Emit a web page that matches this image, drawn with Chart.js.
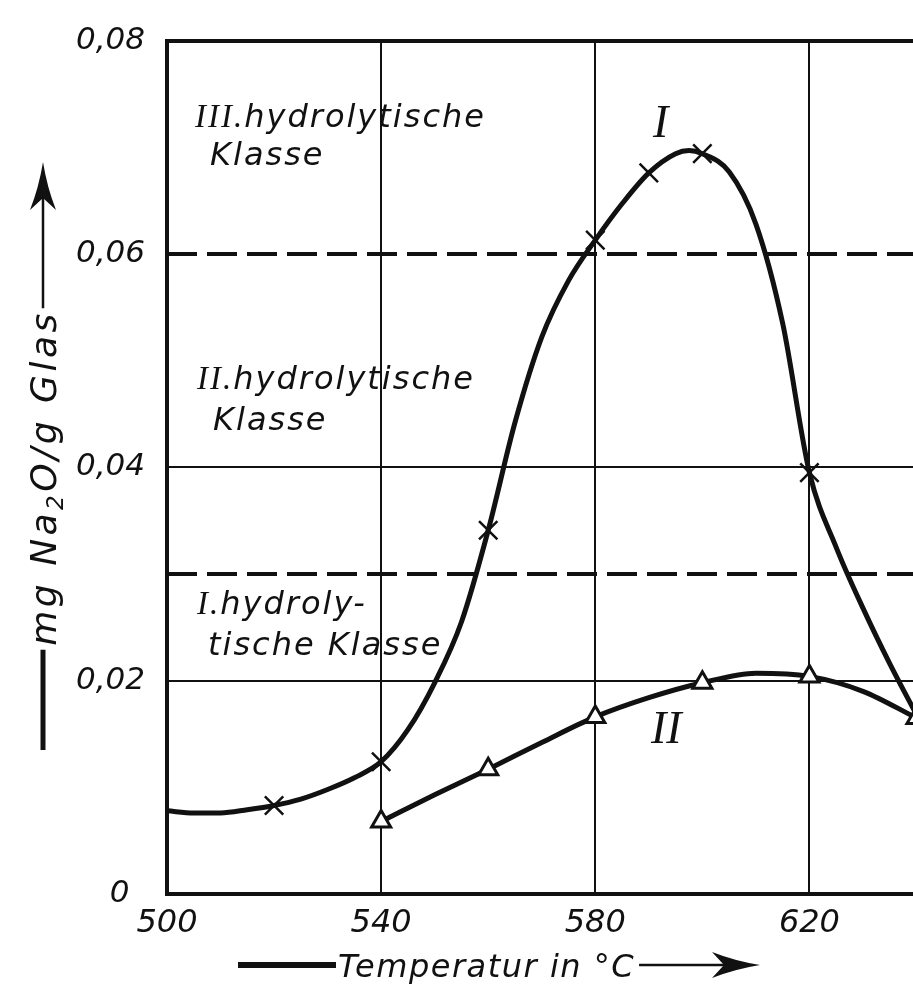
<!DOCTYPE html>
<html>
<head>
<meta charset="utf-8">
<title>Hydrolytische Klasse</title>
<script src="https://cdn.jsdelivr.net/npm/chart.js@4.4.1/dist/chart.umd.min.js"></script>
<style>
  html, body { margin: 0; padding: 0; background: #fff; overflow: hidden; }
  #wrap { width: 913px; height: 998px; overflow: hidden; }
</style>
</head>
<body>
<div id="wrap"><canvas id="chart" width="932" height="998"></canvas></div>
<script>
// Kurve I (Kreuze): Messpunkte
const measTempI = [520, 540, 560, 580, 590, 600, 620];
const measNaI = [0.0083, 0.0124, 0.0341, 0.0613, 0.0676, 0.0694, 0.0395];
const curveTempI = [500, 505, 510, 515, 520, 525, 530, 535, 540, 545, 550, 555, 560, 565, 570, 575, 580, 585, 590, 595, 597.5, 600, 605, 610, 615, 620, 625, 630, 635, 640];
const curveNaI = [0.0078, 0.0076, 0.0076, 0.0079, 0.0083, 0.0089, 0.0098, 0.0109, 0.0124, 0.0154, 0.0198, 0.0255, 0.0341, 0.0442, 0.0522, 0.0575, 0.0613, 0.0647, 0.0676, 0.0694, 0.0697, 0.0694, 0.0677, 0.0628, 0.0535, 0.0395, 0.0325, 0.0268, 0.0216, 0.0168];

// Kurve II (Dreiecke)
const measTempII = [540, 560, 580, 600, 620, 640];
const measNaII = [0.0068, 0.0117, 0.0166, 0.0198, 0.0204, 0.0165];
const curveTempII = [540, 550, 560, 570, 580, 590, 600, 610, 620, 630, 640];
const curveNaII = [0.0068, 0.0093, 0.0117, 0.0142, 0.0166, 0.0184, 0.0198, 0.0207, 0.0204, 0.0190, 0.0165];

// Klassengrenzen (gestrichelt)
const classLimits = [0.03, 0.06];
const tempRange = [500, 640];

// Achsenbeschriftung
const xTickLabels = [500, 540, 580, 620];
const yTickLabels = [0, 0.02, 0.04, 0.06, 0.08];
const xGridLines = [540, 580, 620];
const yGridLines = [0.02, 0.04];

const INK = '#111';
const SANS = '"DejaVu Sans", "Liberation Sans", sans-serif';
const SERIF = '"Liberation Serif", "DejaVu Serif", serif';

const pts = (xs, ys) => xs.map((x, i) => ({ x: x, y: ys[i] }));
const near = (a, list) => list.some(v => Math.abs(v - a) < 1e-6);

function textRun(ctx, parts, x, y) {
    let cx = x;
    parts.forEach(([t, font, dy]) => {
        ctx.font = font;
        ctx.fillText(t, cx, y + (dy || 0));
        cx += ctx.measureText(t).width;
    });
    return cx;
}

function arrowHead(ctx, tip, y) {
    // pointing to +x in the current frame
    ctx.beginPath();
    ctx.moveTo(tip, y);
    ctx.quadraticCurveTo(tip - 25, y - 4, tip - 48, y - 13);
    ctx.lineTo(tip - 36, y);
    ctx.lineTo(tip - 48, y + 13);
    ctx.quadraticCurveTo(tip - 25, y + 4, tip, y);
    ctx.fill();
}

const annotations = {
    id: 'annotations',
    afterDraw(chart) {
        const ctx = chart.ctx;
        ctx.save();
        ctx.fillStyle = INK;
        ctx.strokeStyle = INK;
        ctx.textBaseline = 'alphabetic';
        const spacing = px => { if ('letterSpacing' in ctx) ctx.letterSpacing = px; };
        spacing('2px');

        const sans = 'italic 32px ' + SANS;
        const num = 'italic 33px ' + SERIF;

        // Klassen-Texte
        textRun(ctx, [['III.', num], ['hydrolytische', sans]], 195, 127);
        textRun(ctx, [['Klasse', sans]], 210, 165);
        textRun(ctx, [['II.', num], ['hydrolytische', sans]], 197, 389);
        textRun(ctx, [['Klasse', sans]], 213, 430);
        textRun(ctx, [['I.', num], ['hydroly-', sans]], 197, 614);
        textRun(ctx, [['tische Klasse', sans]], 208, 655);

        // Kurvenbezeichnungen
        spacing('0px');
        ctx.font = 'italic 46px ' + SERIF;
        ctx.fillText('I', 653, 137);
        ctx.fillText('II', 651, 743);

        // x-Achsentitel
        spacing('1.5px');
        const xt = 'italic 32px ' + SANS;
        ctx.lineCap = 'butt';
        ctx.lineWidth = 6;
        ctx.beginPath(); ctx.moveTo(238, 965); ctx.lineTo(336, 965); ctx.stroke();
        const xEnd = textRun(ctx, [['Temperatur in °C', xt]], 338, 977);
        ctx.lineWidth = 2.5;
        ctx.beginPath(); ctx.moveTo(xEnd + 4, 965); ctx.lineTo(740, 965); ctx.stroke();
        arrowHead(ctx, 760, 965);

        // y-Achsentitel (gedreht)
        spacing('3.5px');
        ctx.translate(43, 478);
        ctx.rotate(-Math.PI / 2);
        const yt = 'italic 36px ' + SANS;
        const sub = 'italic 23px ' + SANS;
        const parts = [['mg Na', yt], ['2', sub, 7], ['O/g Glas', yt]];
        let w = 0;
        parts.forEach(([t, f]) => { ctx.font = f; w += ctx.measureText(t).width; });
        const start = -w / 2;
        textRun(ctx, parts, start, 13);
        ctx.lineWidth = 5;
        ctx.beginPath(); ctx.moveTo(-272, 0); ctx.lineTo(start - 4, 0); ctx.stroke();
        ctx.lineWidth = 2.5;
        ctx.beginPath(); ctx.moveTo(start + w + 2, 0); ctx.lineTo(300, 0); ctx.stroke();
        arrowHead(ctx, 316, 0);

        ctx.restore();
    }
};

const ctx = document.getElementById('chart').getContext('2d');

const chart = new Chart(ctx, {
    type: 'line',
    data: {
        datasets: [
            {
                label: 'I Messpunkte',
                data: pts(measTempI, measNaI),
                showLine: false,
                pointStyle: 'crossRot',
                pointRadius: 13,
                pointBorderWidth: 2.5,
                borderColor: INK,
                backgroundColor: INK
            },
            {
                label: 'II Messpunkte',
                data: pts(measTempII, measNaII),
                showLine: false,
                pointStyle: 'triangle',
                pointRadius: 11,
                pointBorderWidth: 3,
                borderColor: INK,
                backgroundColor: '#fff'
            },
            {
                label: 'I',
                data: pts(curveTempI, curveNaI),
                borderColor: INK,
                borderWidth: 5,
                pointRadius: 0,
                cubicInterpolationMode: 'monotone'
            },
            {
                label: 'II',
                data: pts(curveTempII, curveNaII),
                borderColor: INK,
                borderWidth: 5,
                pointRadius: 0,
                cubicInterpolationMode: 'monotone'
            },
            ...classLimits.map(v => ({
                label: 'Grenze ' + v,
                data: pts(tempRange, [v, v]),
                borderColor: INK,
                borderWidth: 4,
                borderDash: [30, 10],
                pointRadius: 0
            }))
        ]
    },
    options: {
        responsive: false,
        animation: false,
        layout: { padding: { top: 33, left: 0, right: 0, bottom: 0 } },
        plugins: {
            legend: { display: false },
            tooltip: { enabled: false }
        },
        scales: {
            x: {
                type: 'linear',
                min: 500,
                max: 640,
                afterFit: scale => { scale.height = 104; },
                border: { display: true, color: INK, width: 4 },
                grid: {
                    drawTicks: false,
                    color: c => near(c.tick.value, xGridLines) ? INK : 'rgba(0,0,0,0)',
                    lineWidth: c => near(c.tick.value, xGridLines) ? 2 : 0
                },
                ticks: {
                    stepSize: 20,
                    autoSkip: false,
                    maxRotation: 0,
                    padding: 10,
                    color: INK,
                    font: { family: SANS, size: 32, style: 'italic' },
                    callback: v => near(v, xTickLabels) ? String(v) : ''
                }
            },
            y: {
                type: 'linear',
                min: 0,
                max: 0.08,
                afterFit: scale => { scale.width = 167; },
                border: { display: true, color: INK, width: 4 },
                grid: {
                    drawTicks: false,
                    color: c => (near(c.tick.value, yGridLines) || near(c.tick.value, [0.08])) ? INK : 'rgba(0,0,0,0)',
                    lineWidth: c => near(c.tick.value, [0.08]) ? 4 : (near(c.tick.value, yGridLines) ? 2 : 0)
                },
                ticks: {
                    stepSize: 0.01,
                    autoSkip: false,
                    padding: 22,
                    color: INK,
                    font: { family: SANS, size: 31, style: 'italic' },
                    callback: v => {
                        if (!near(v, yTickLabels)) return '';
                        if (Math.abs(v) < 1e-9) return '0\u2002';
                        return v.toFixed(2).replace('.', ',');
                    }
                }
            }
        }
    },
    plugins: [annotations]
});
</script>
</body>
</html>
